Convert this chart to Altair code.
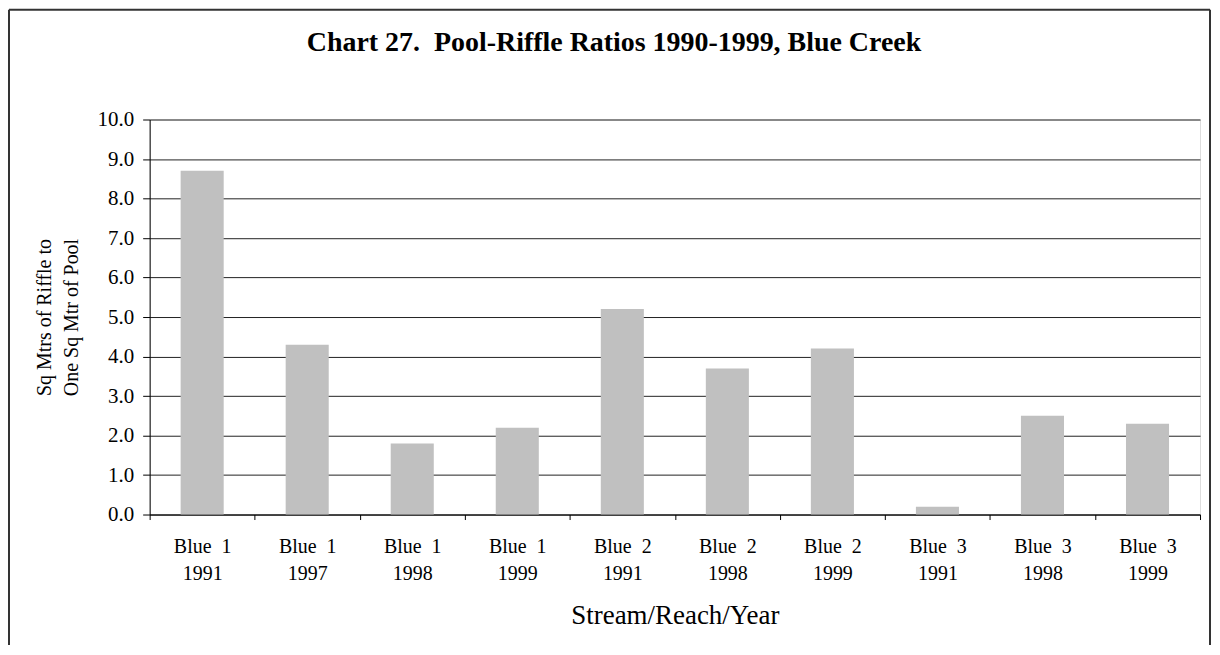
import altair as alt
import pandas as pd

streams = ["Blue 1", "Blue 1", "Blue 1", "Blue 1", "Blue 2", "Blue 2", "Blue 2", "Blue 3", "Blue 3", "Blue 3"]
years = ["1991", "1997", "1998", "1999", "1991", "1998", "1999", "1991", "1998", "1999"]
ratios = [8.7, 4.3, 1.8, 2.2, 5.2, 3.7, 4.2, 0.2, 2.5, 2.3]

df = pd.DataFrame({
    "key": [f"{s.replace(' ', chr(160) + ' ')}|{y}" for s, y in zip(streams, years)],
    "ratio": ratios,
})

FONT = "Liberation Serif"

bars = alt.Chart(df).mark_bar(color="#c0c0c0", width={"band": 0.41}).encode(
    x=alt.X(
        "key:N",
        sort=None,
        scale=alt.Scale(paddingInner=0, paddingOuter=0),
        axis=alt.Axis(
            title="Stream/Reach/Year",
            labelExpr="split(datum.label, '|')",
            labelAngle=0,
            labelFont=FONT,
            labelFontSize=20,
            labelLineHeight=27,
            labelColor="#000",
            labelPadding=17,
            labelBaseline="top",
            tickBand="extent",
            tickSize=5,
            tickColor="#000",
            domainColor="#000",
            titleFont=FONT,
            titleFontSize=27,
            titleFontWeight="normal",
            titleColor="#000",
            titlePadding=19,
            grid=False,
        ),
    ),
    y=alt.Y(
        "ratio:Q",
        scale=alt.Scale(domain=[0, 10]),
        axis=alt.Axis(
            title=["Sq Mtrs of Riffle to", "One Sq Mtr of Pool"],
            values=[0, 1, 2, 3, 4, 5, 6, 7, 8, 9, 10],
            format=".1f",
            labelFont=FONT,
            labelFontSize=21,
            labelColor="#000",
            labelPadding=9,
            tickSize=7,
            tickColor="#000",
            domainColor="#000",
            gridColor="#222",
            gridWidth=1,
            titleFont=FONT,
            titleFontSize=20,
            titleFontWeight="normal",
            titleColor="#000",
            titleLineHeight=27,
            titlePadding=16,
        ),
    ),
)

frame_df = pd.DataFrame({"a": [0]})
left = alt.Chart(frame_df).mark_rule(color="#333", strokeWidth=2, clip=False).encode(
    x=alt.value(-141), y=alt.value(-110), y2=alt.value(700)
)
right = alt.Chart(frame_df).mark_rule(color="#333", strokeWidth=2, clip=False).encode(
    x=alt.value(1063), y=alt.value(-110), y2=alt.value(700)
)
top = alt.Chart(frame_df).mark_rule(color="#333", strokeWidth=2, clip=False).encode(
    x=alt.value(-141), x2=alt.value(1063), y=alt.value(-110)
)

chart = alt.layer(bars, left, right, top).properties(
    width=1053,
    height=396,
    title=alt.TitleParams(
        text="Chart 27.\u00a0 Pool-Riffle Ratios 1990-1999, Blue Creek",
        font=FONT,
        fontSize=28,
        fontWeight="bold",
        color="#000",
        anchor="middle",
        dx=-61,
        dy=48,
        offset=0,
    ),
    autosize=alt.AutoSizeParams(type="none"),
    padding={"left": 142, "top": 111, "right": 12, "bottom": 130},
).configure_view(stroke="#808080", strokeWidth=1).configure(background="white")

chart.save("out.html", embed_options={"renderer": "svg", "actions": False})
